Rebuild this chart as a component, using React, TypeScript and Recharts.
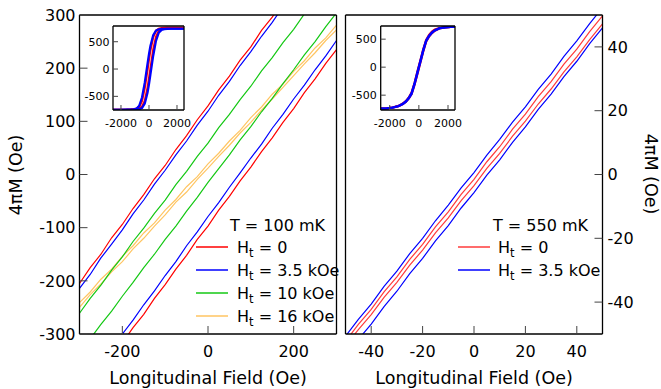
import { LineChart, Line, XAxis, YAxis } from "recharts";

const FONT = "DejaVu Sans, Verdana, sans-serif";

// ---- left panel, T = 100 mK ----
const fieldL = [
  -300, -275, -250, -225, -200, -175, -150, -125, -100, -75, -50, -25, 0, 25,
  50, 75, 100, 125, 150, 175, 200, 225, 250, 275, 300,
];
const ht0UpperL = [
  -205, -175, -150, -119, -94, -64, -38, -8, 17, 47, 73, 103, 129, 159, 185,
  215, 240, 271, 296, 326, null, null, null, null, null,
];
const ht0LowerL = [
  null, null, null, null, -317, -288, -263, -233, -207, -178, -152, -122, -97,
  -67, -41, -12, 14, 43, 69, 98, 124, 154, 180, 209, 235,
];
const ht35UpperL = [
  -214, -188, -157, -131, -104, -74, -48, -18, 8, 37, 63, 93, 119, 149, 175,
  205, 231, 260, 286, 316, null, null, null, null, null,
];
const ht35LowerL = [
  null, null, null, -329, -300, -274, -245, -219, -190, -164, -134, -108, -79,
  -53, -24, 3, 31, 57, 87, 113, 142, 168, 197, 223, 252,
];
const ht10UpperL = [
  -261, -233, -208, -180, -155, -126, -101, -73, -48, -19, 6, 34, 59, 88, 113,
  141, 166, 195, 220, 248, 273, 302, 328, null, null,
];
const ht10LowerL = [
  null, -309, -282, -257, -229, -203, -175, -150, -122, -97, -69, -43, -15, 11,
  37, 65, 90, 118, 143, 171, 197, 225, 250, 278, 304,
];
const ht16UpperL = [
  -241, -221, -197, -178, -154, -134, -110, -91, -67, -47, -23, -4, 20, 40, 63,
  83, 107, 127, 151, 170, 194, 214, 238, 257, 281,
];
const ht16LowerL = [
  -250, -226, -206, -183, -164, -140, -120, -97, -76, -52, -33, -9, 12, 34, 55,
  78, 98, 121, 142, 164, 186, 208, 229, 252, 272,
];
const xTicksL = [-200, 0, 200];
const yTicksL = [-300, -200, -100, 0, 100, 200, 300];
const legendLabelsL = ["0", "3.5 kOe", "10 kOe", "16 kOe"];

// ---- right panel, T = 550 mK ----
const fieldR = [
  -50, -45, -40, -35, -30, -25, -20, -15, -10, -5, 0, 5, 10, 15, 20, 25, 30,
  35, 40, 45, 50,
];
const ht35UpperR = [
  -50.7, -45.4, -40.6, -35.1, -30.3, -24.8, -20.0, -14.5, -9.6, -4.2, 0.6, 6.1,
  11.0, 16.4, 21.2, 26.7, 31.5, 37.0, 41.9, 47.3, 52.3,
];
const ht0UpperR = [
  -52.3, -47.0, -42.3, -36.8, -32.1, -26.6, -21.9, -16.4, -11.7, -6.2, -1.5,
  4.0, 8.7, 14.2, 18.9, 24.4, 29.1, 34.6, 39.3, 44.8, 49.7,
];
const ht0LowerR = [
  -53.8, -48.6, -43.9, -38.5, -33.8, -28.4, -23.7, -18.3, -13.6, -8.2, -3.5,
  1.9, 6.6, 12.0, 16.7, 22.1, 26.8, 32.2, 36.9, 42.3, 47.2,
];
const ht35LowerR = [
  -57, -51.7, -46.9, -41.4, -36.6, -31.1, -26.3, -20.8, -16.0, -10.5, -5.7,
  -0.2, 4.6, 10.1, 14.9, 20.4, 25.2, 30.7, 35.5, 41.0, 46,
];
const ticksR = [-40, -20, 0, 20, 40];
const legendLabelsR = ["0", "3.5 kOe"];

// ---- insets (full loops) ----
const insetFieldL = [
  -2600, -2000, -1600, -1300, -1100, -900, -700, -500, -300, -100, 0, 100, 300,
  500, 700, 900, 1100, 1300, 1600, 2000, 2500,
];
const insetRedDownL = [
  -745, -745, -744, -740, -736, -725, -690, -585, -340, 0, 180, 345, 585, 700,
  738, 748, 752, 754, 755, 755, 755,
];
const insetRedUpL = [
  -745, -745, -745, -743, -740, -736, -725, -690, -585, -340, -177, 0, 345, 585,
  700, 738, 748, 752, 755, 755, 755,
];
const insetBlueDownL = [
  -745, -745, -744, -742, -738, -726, -675, -522, -247, 106, 275, 420, 620, 703,
  729, 735, 737, 738, 738, 738, 738,
];
const insetBlueUpL = [
  -745, -745, -745, -745, -744, -741, -735, -714, -630, -430, -280, -108, 240,
  515, 665, 717, 731, 736, 738, 738, 738,
];

const insetFieldR = [
  -2600, -2200, -1800, -1400, -1100, -900, -700, -500, -300, -100, 0, 100, 300,
  500, 700, 900, 1100, 1400, 1800, 2200, 2500,
];
const insetRedDownR = [
  -740, -734, -720, -692, -650, -608, -545, -455, -282, -80, 22, 120, 318, 485,
  575, 635, 672, 700, 714, 719, 721,
];
const insetRedUpR = [
  -740, -735, -723, -697, -658, -620, -563, -482, -318, -120, -22, 80, 282, 455,
  548, 608, 652, 690, 710, 718, 720,
];
const insetBlueDownR = [
  -740, -735, -721, -694, -653, -612, -550, -462, -290, -88, 12, 110, 308, 476,
  563, 622, 661, 695, 711, 717, 719,
];
const insetBlueUpR = [
  -741, -736, -723, -698, -660, -622, -562, -478, -310, -112, -12, 90, 290, 462,
  552, 612, 655, 692, 710, 717, 719,
];
const insetXTicks = [-2000, 0, 2000];
const insetYTicks = [-500, 0, 500];

const RED = "#ff0000";
const RED_R = "#ff3b3b";
const BLUE = "#0000ff";
const GREEN = "#14c814";
const ORANGE = "#ffc562";

const leftRows = fieldL.map((x, i) => ({
  x,
  r1: ht0UpperL[i],
  r2: ht0LowerL[i],
  b1: ht35UpperL[i],
  b2: ht35LowerL[i],
  g1: ht10UpperL[i],
  g2: ht10LowerL[i],
  o1: ht16UpperL[i],
  o2: ht16LowerL[i],
}));
const rightRows = fieldR.map((x, i) => ({
  x,
  b1: ht35UpperR[i],
  r1: ht0UpperR[i],
  r2: ht0LowerR[i],
  b2: ht35LowerR[i],
}));
const insetRowsL = insetFieldL.map((x, i) => ({
  x,
  r1: insetRedDownL[i],
  r2: insetRedUpL[i],
  b1: insetBlueDownL[i],
  b2: insetBlueUpL[i],
}));
const insetRowsR = insetFieldR.map((x, i) => ({
  x,
  r1: insetRedDownR[i],
  r2: insetRedUpR[i],
  b1: insetBlueDownR[i],
  b2: insetBlueUpR[i],
}));

const axisLine = { stroke: "#000", strokeWidth: 1.3 };
const tickLine = { stroke: "#444", strokeWidth: 1 };
const mainTick = { fill: "#000", fontSize: 16, fontFamily: FONT };
const insetTick = { fill: "#000", fontSize: 11, fontFamily: FONT };

function series(keys: string[], colors: string[], width: number) {
  return keys.map((k, i) => (
    <Line
      key={k}
      xAxisId="b"
      yAxisId="l"
      dataKey={k}
      stroke={colors[i]}
      strokeWidth={width}
      dot={false}
      activeDot={false}
      type="linear"
      isAnimationActive={false}
    />
  ));
}

function Inset({
  rows,
  xDomain,
  yDomain,
  left,
  yWidth,
  width,
  yMargin,
}: {
  rows: any[];
  xDomain: number[];
  yDomain: number[];
  left: number;
  yWidth: number;
  width: number;
  yMargin: number;
}) {
  return (
    <div style={{ position: "absolute", left, top: 20 }}>
      <LineChart
        width={width}
        height={110}
        data={rows}
        margin={{ top: 5, right: 13, bottom: 0, left: 0 }}
      >
        <XAxis xAxisId="b" dataKey="x" type="number" domain={xDomain} ticks={insetXTicks}
          allowDataOverflow interval={0} height={20} tickSize={-5} tickMargin={14}
          tick={insetTick} tickLine={tickLine} axisLine={axisLine} />
        <XAxis xAxisId="t" orientation="top" dataKey="x" type="number" domain={xDomain}
          ticks={insetXTicks} allowDataOverflow interval={0} height={1} tickSize={-5}
          tick={false} tickLine={tickLine} axisLine={axisLine} />
        <YAxis yAxisId="l" type="number" domain={yDomain} ticks={insetYTicks}
          allowDataOverflow interval={0} width={yWidth} tickSize={-5} tickMargin={yMargin}
          tick={insetTick} tickLine={tickLine} axisLine={axisLine} />
        <YAxis yAxisId="r" orientation="right" type="number" domain={yDomain}
          ticks={insetYTicks} allowDataOverflow interval={0} width={1} tickSize={-5}
          tick={false} tickLine={tickLine} axisLine={axisLine} />
        {series(["r1", "r2", "b1", "b2"], [RED, RED, BLUE, BLUE], 2.2)}
      </LineChart>
    </div>
  );
}

function Ht({ x, y, label }: { x: number; y: number; label: string }) {
  return (
    <text x={x} y={y + 5.5} fontSize={16} fontFamily={FONT} fill="#000">
      H
      <tspan dy={4} fontSize={11.5}>
        t
      </tspan>
      <tspan dy={-4}>{" = " + label}</tspan>
    </text>
  );
}

export default function App() {
  const colorsL = [RED, BLUE, GREEN, ORANGE];
  const colorsR = [RED_R, BLUE];
  return (
    <div
      style={{
        position: "absolute",
        left: 0,
        top: 0,
        width: 661,
        height: 389,
        background: "#fff",
      }}
    >
      {/* left panel */}
      <div style={{ position: "absolute", left: 0, top: 0 }}>
        <LineChart width={340} height={389} data={leftRows}
          margin={{ top: 14, right: 2.5, bottom: 0, left: 0 }}>
          <XAxis xAxisId="b" dataKey="x" type="number" domain={[-300, 300]} ticks={xTicksL}
            allowDataOverflow interval={0} height={55} tickSize={-8} tickMargin={20}
            tick={mainTick} tickLine={tickLine} axisLine={axisLine} />
          <XAxis xAxisId="t" orientation="top" dataKey="x" type="number" domain={[-300, 300]}
            ticks={xTicksL} allowDataOverflow interval={0} height={1} tickSize={-8}
            tick={false} tickLine={tickLine} axisLine={axisLine} />
          <YAxis yAxisId="l" type="number" domain={[-300, 300]} ticks={yTicksL}
            allowDataOverflow interval={0} width={79.5} tickSize={-8} tickMargin={12}
            tick={mainTick} tickLine={tickLine} axisLine={axisLine} />
          <YAxis yAxisId="r" orientation="right" type="number" domain={[-300, 300]}
            ticks={yTicksL} allowDataOverflow interval={0} width={1} tickSize={-8}
            tick={false} tickLine={tickLine} axisLine={axisLine} />
          {series(
            ["o1", "o2", "g1", "g2", "b1", "b2", "r1", "r2"],
            [ORANGE, ORANGE, GREEN, GREEN, BLUE, BLUE, RED, RED],
            1.2
          )}
        </LineChart>
      </div>

      {/* right panel */}
      <div style={{ position: "absolute", left: 340, top: 0 }}>
        <LineChart width={321} height={389} data={rightRows}
          margin={{ top: 14, right: 0, bottom: 0, left: 4.5 }}>
          <XAxis xAxisId="b" dataKey="x" type="number" domain={[-50, 50]} ticks={ticksR}
            allowDataOverflow interval={0} height={55} tickSize={-8} tickMargin={20}
            tick={mainTick} tickLine={tickLine} axisLine={axisLine} />
          <XAxis xAxisId="t" orientation="top" dataKey="x" type="number" domain={[-50, 50]}
            ticks={ticksR} allowDataOverflow interval={0} height={1} tickSize={-8}
            tick={false} tickLine={tickLine} axisLine={axisLine} />
          <YAxis yAxisId="l" type="number" domain={[-50, 50]} ticks={ticksR}
            allowDataOverflow interval={0} width={1} tickSize={-8}
            tick={false} tickLine={tickLine} axisLine={axisLine} />
          <YAxis yAxisId="r" orientation="right" type="number" domain={[-50, 50]} ticks={ticksR}
            allowDataOverflow interval={0} width={58.5} tickSize={-8} tickMargin={13}
            tick={mainTick} tickLine={tickLine} axisLine={axisLine} />
          {series(["r1", "r2", "b1", "b2"], [RED_R, RED_R, BLUE, BLUE], 1.2)}
        </LineChart>
      </div>

      <Inset rows={insetRowsL} xDomain={[-2570, 2500]} yDomain={[-750, 788]}
        left={70} yWidth={43} width={128} yMargin={8.5} />
      <Inset rows={insetRowsR} xDomain={[-2620, 2480]} yDomain={[-765, 735]}
        left={338} yWidth={42.7} width={131} yMargin={9} />

      {/* titles and legends */}
      <svg width={661} height={389}
        style={{ position: "absolute", left: 0, top: 0, pointerEvents: "none" }}>
        <text x={16} y={175} transform="rotate(-90 16 175)" textAnchor="middle"
          dominantBaseline="central" fontSize={17.5} fontFamily={FONT}>
          4πM (Oe)
        </text>
        <text x={651} y={174} transform="rotate(90 651 174)" textAnchor="middle"
          dominantBaseline="central" fontSize={17.5} fontFamily={FONT}>
          4πM (Oe)
        </text>
        <text x={208} y={384} textAnchor="middle" fontSize={17.5} fontFamily={FONT}>
          Longitudinal Field (Oe)
        </text>
        <text x={474} y={384} textAnchor="middle" fontSize={17.5} fontFamily={FONT}>
          Longitudinal Field (Oe)
        </text>

        <text x={230} y={230.5} fontSize={16} fontFamily={FONT}>
          T = 100 mK
        </text>
        {legendLabelsL.map((lab, i) => (
          <g key={lab}>
            <line x1={196} x2={228} y1={247 + i * 23} y2={247 + i * 23}
              stroke={colorsL[i]} strokeWidth={1.5} />
            <Ht x={237} y={247 + i * 23} label={lab} />
          </g>
        ))}

        <text x={493} y={230.5} fontSize={16} fontFamily={FONT}>
          T = 550 mK
        </text>
        {legendLabelsR.map((lab, i) => (
          <g key={lab}>
            <line x1={458} x2={490} y1={247 + i * 23} y2={247 + i * 23}
              stroke={colorsR[i]} strokeWidth={1.5} />
            <Ht x={498} y={247 + i * 23} label={lab} />
          </g>
        ))}
      </svg>
    </div>
  );
}
